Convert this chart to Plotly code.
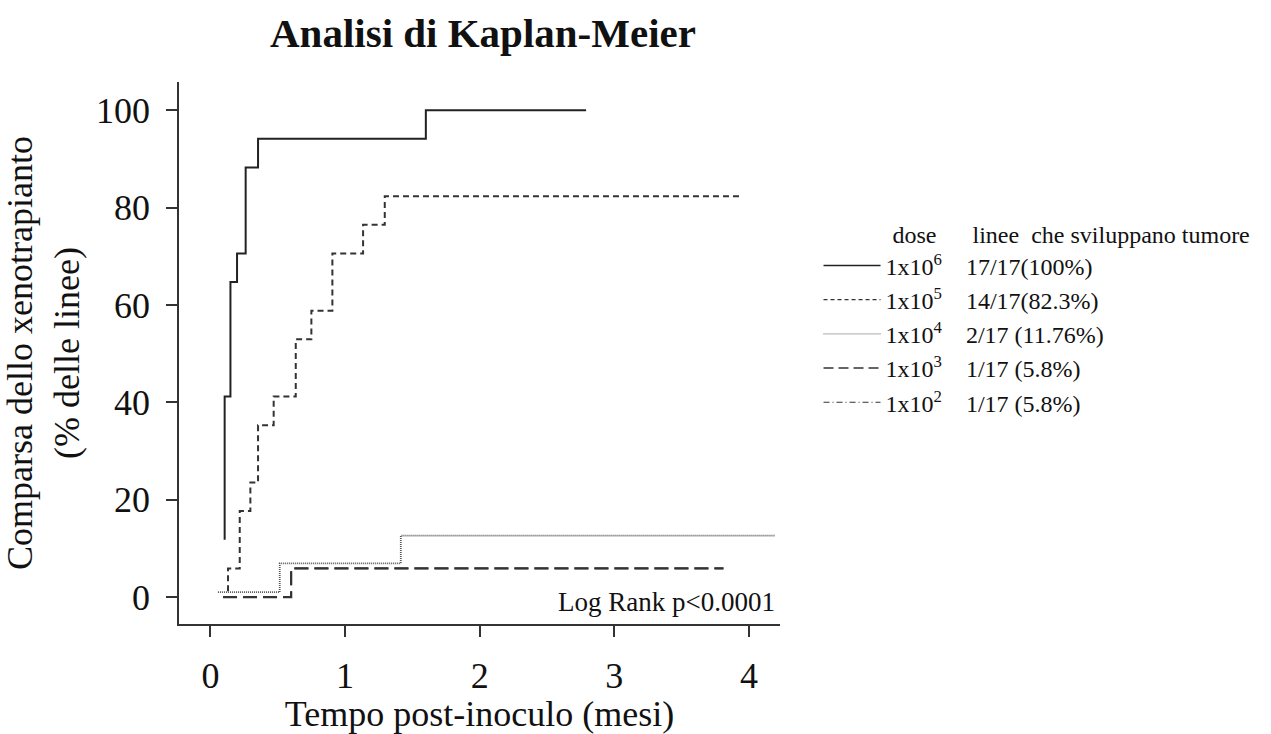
import plotly.graph_objects as go

# ---- data ----
months_1e6 = [0.106, 0.106, 0.149, 0.198, 0.262, 0.354, 1.600, 2.79]
pct_1e6 = [11.76, 41.18, 64.71, 70.59, 88.24, 94.12, 100.0, 100.0]

months_1e5 = [0.131, 0.131, 0.218, 0.297, 0.354, 0.470, 0.634, 0.750, 0.906, 1.134, 1.295, 3.93]
pct_1e5 = [1.2, 5.88, 17.65, 23.53, 35.29, 41.18, 52.94, 58.82, 70.59, 76.47, 82.35, 82.35]

months_1e4 = [0.056, 0.515, 1.414, 4.19]
pct_1e4 = [1.0, 6.9, 12.6, 12.6]

months_1e3 = [0.094, 0.600, 3.81]
pct_1e3 = [0.0, 5.88, 5.88]

months_1e2 = [0.094, 0.600, 3.81]
pct_1e2 = [0.0, 5.88, 5.88]

dose_labels = ["1x10<sup>6</sup>", "1x10<sup>5</sup>", "1x10<sup>4</sup>", "1x10<sup>3</sup>", "1x10<sup>2</sup>"]
outcome_labels = ["17/17(100%)", "14/17(82.3%)", "2/17 (11.76%)", "1/17 (5.8%)", "1/17 (5.8%)"]

x_ticks = [0, 1, 2, 3, 4]
y_ticks = [0, 20, 40, 60, 80, 100]

FONT = "Liberation Serif, Times New Roman, serif"
NB = "\u00a0"

series = [
    (months_1e2, pct_1e2, dict(color="#333333", width=1.6, dash="14px,6px")),
    (months_1e6, pct_1e6, dict(color="#222222", width=2.0, dash="solid")),
    (months_1e5, pct_1e5, dict(color="#333333", width=2.0, dash="6px,4px")),
    (months_1e4, pct_1e4, dict(color="#555555", width=1.8, dash="1px,1px")),
    (months_1e3, pct_1e3, dict(color="#333333", width=2.2, dash="14px,6px")),
]

legend_styles = [
    dict(color="#222222", width=1.5, dash="solid"),
    dict(color="#333333", width=1.3, dash="4px,3px"),
    dict(color="#777777", width=1.3, dash="1px,1px"),
    dict(color="#333333", width=1.5, dash="10px,5px"),
    dict(color="#333333", width=1.2, dash="6px,3px,1px,3px"),
]

fig = go.Figure()
for xs, ys, ln in series:
    fig.add_trace(go.Scatter(x=xs, y=ys, mode="lines", line=dict(shape="hv", **ln),
                             showlegend=False, hoverinfo="skip"))

for i, (d, o, ln) in enumerate(zip(dose_labels, outcome_labels, legend_styles)):
    fig.add_trace(go.Scatter(x=[None], y=[None], mode="lines", line=ln,
                             name=d + NB * 4 + o, legendgroup="g%d" % i, showlegend=True))

axis_common = dict(
    showline=True, linecolor="#333333", linewidth=1.5,
    ticks="outside", ticklen=11, tickwidth=1.5, tickcolor="#333333",
    showgrid=False, zeroline=False, automargin=False,
    tickfont=dict(family=FONT, size=36, color="#111111"),
)

fig.update_layout(
    width=1271, height=734,
    margin=dict(l=179, r=491, t=82, b=110, autoexpand=False),
    paper_bgcolor="white", plot_bgcolor="white",
    font=dict(family=FONT, color="#111111"),
    title=dict(text="<b>Analisi di Kaplan-Meier</b>", x=0.38, xanchor="center",
               y=0.955, yanchor="middle", font=dict(family=FONT, size=41, color="#111111")),
    xaxis=dict(range=[-0.233, 4.23], tickvals=x_ticks, ticklabelstandoff=8,
               title=dict(text="Tempo post-inoculo (mesi)", standoff=5,
                          font=dict(family=FONT, size=36, color="#111111")),
               **axis_common),
    yaxis=dict(range=[-5.54, 105.8], tickvals=y_ticks, ticklabelstandoff=9,
               title=dict(text="Comparsa dello xenotrapianto<br>(% delle linee)", standoff=10,
                          font=dict(family=FONT, size=36, color="#111111")),
               **axis_common),
    legend=dict(x=0.644, xref="container", xanchor="left", y=0.711, yref="container", yanchor="top",
                font=dict(family=FONT, size=24, color="#111111"),
                title=dict(text=NB * 12 + "dose" + NB * 6 + "linee" + NB * 2 + "che sviluppano tumore",
                           font=dict(family=FONT, size=24, color="#111111"), side="top"),
                tracegroupgap=0, itemwidth=57, bgcolor="rgba(0,0,0,0)"),
    annotations=[dict(text="Log Rank p<0.0001", xref="paper", yref="paper", x=0.995, y=0.04,
                      xanchor="right", yanchor="middle", showarrow=False,
                      font=dict(family=FONT, size=27, color="#111111"))],
)

fig.write_html("out.html")
